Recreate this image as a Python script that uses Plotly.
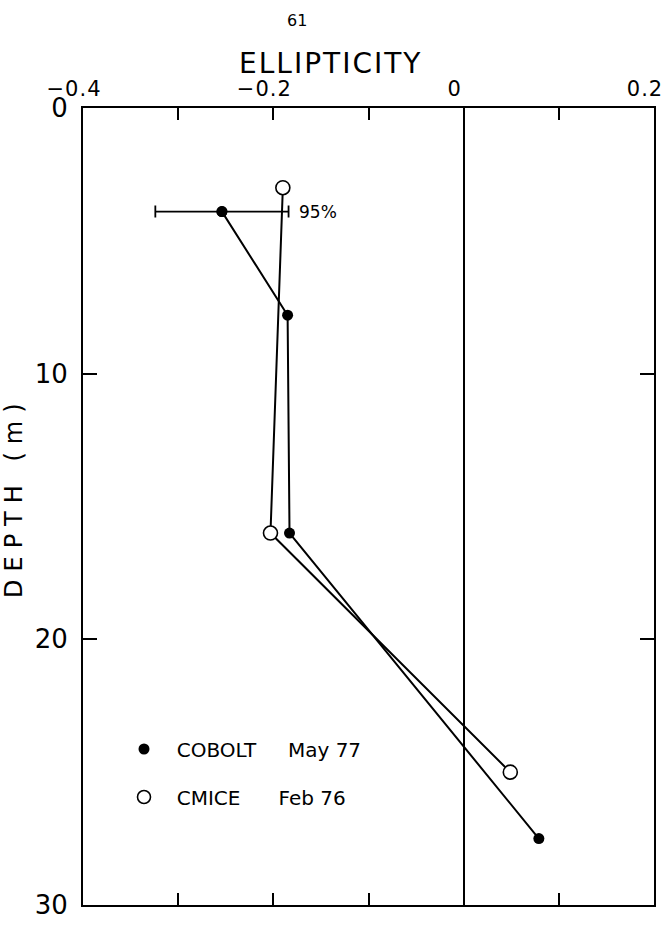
import plotly.graph_objects as go

# ---- data ----
cobolt_ellipticity = [-0.254, -0.185, -0.183, 0.079]
cobolt_depth = [3.9, 7.8, 16.0, 27.5]
cmice_ellipticity = [-0.190, -0.203, 0.049]
cmice_depth = [3.0, 16.0, 25.0]
err_center_ellipticity = [-0.254]
err_center_depth = [3.9]
err_halfwidth = [0.07]
err_label = "95%"
x_tickvals = [-0.4, -0.3, -0.2, -0.1, 0.0, 0.1, 0.2]
x_ticklabels = ["\u22120.4", "", "\u22120.2", "", "0", "", "0.2"]
y_tickvals = [0, 10, 20, 30]
y_ticktext = ["0", "10", "20", "30"]
NB = "\u00a0"
legend_cobolt = NB * 2 + "COBOLT" + NB * 5 + "May 77"
legend_cmice = NB * 2 + "CMICE" + NB * 6 + "Feb 76"

FONT = "DejaVu Sans"
W, H = 664, 928
L, R, T, B = 83, 10, 108, 23

x_ticktext = [
    f'<span style="letter-spacing:1px">{t}</span>' if t else ""
    for t in x_ticklabels
]

fig = go.Figure()

# CMICE line with open circles
fig.add_trace(go.Scatter(
    x=cmice_ellipticity, y=cmice_depth, mode="lines+markers",
    line=dict(color="black", width=2),
    marker=dict(symbol="circle", size=14, color="white",
                line=dict(color="black", width=1.6)),
    showlegend=False))

# COBOLT line with filled circles
fig.add_trace(go.Scatter(
    x=cobolt_ellipticity, y=cobolt_depth, mode="lines+markers",
    line=dict(color="black", width=2),
    marker=dict(symbol="circle", size=11, color="black"),
    showlegend=False))

# 95% error bar
fig.add_trace(go.Scatter(
    x=err_center_ellipticity, y=err_center_depth, mode="markers",
    marker=dict(symbol="circle", size=11, color="black"),
    error_x=dict(type="data", array=err_halfwidth, visible=True,
                 color="black", thickness=1.8, width=6),
    showlegend=False))

# legend entries
fig.add_trace(go.Scatter(
    x=[None], y=[None], mode="markers", name=legend_cobolt,
    marker=dict(symbol="circle", size=11, color="black"),
    legend="legend"))
fig.add_trace(go.Scatter(
    x=[None], y=[None], mode="markers", name=legend_cmice,
    marker=dict(symbol="circle", size=13, color="white",
                line=dict(color="black", width=1.6)),
    legend="legend2"))

pw = W - L - R
ph = H - T - B

def px_x(p):
    return (p - L) / pw

def px_y(p):
    return (H - B - p) / ph

fig.add_annotation(
    x=err_center_ellipticity[0] + err_halfwidth[0], y=err_center_depth[0],
    xref="x", yref="y", text=err_label, showarrow=False,
    xanchor="left", yanchor="middle", xshift=8,
    font=dict(family=FONT, size=17, color="black"))

fig.add_annotation(
    x=px_x(330), y=px_y(63), xref="paper", yref="paper",
    text='<span style="letter-spacing:2px">ELLIPTICITY</span>',
    showarrow=False, xanchor="center", yanchor="middle",
    font=dict(family=FONT, size=28, color="black"))
fig.add_annotation(
    x=px_x(297), y=px_y(21), xref="paper", yref="paper",
    text="61", showarrow=False, xanchor="center", yanchor="middle",
    font=dict(family=FONT, size=16, color="black"))
fig.add_annotation(
    x=px_x(14), y=px_y(497), xref="paper", yref="paper",
    text='<span style="letter-spacing:8px">DEPTH\u00a0(m)</span>',
    showarrow=False, textangle=-90,
    xanchor="center", yanchor="middle",
    font=dict(family=FONT, size=24, color="black"))

fig.update_layout(
    width=W, height=H,
    margin=dict(l=L, r=R, t=T, b=B, autoexpand=False),
    paper_bgcolor="white", plot_bgcolor="white",
    font=dict(family=FONT, color="black"),
    legend=dict(x=px_x(124), y=px_y(749), xanchor="left", yanchor="middle",
                bgcolor="rgba(0,0,0,0)", font=dict(family=FONT, size=20)),
    legend2=dict(x=px_x(124), y=px_y(797), xanchor="left", yanchor="middle",
                 bgcolor="rgba(0,0,0,0)", font=dict(family=FONT, size=20)),
    xaxis=dict(range=[-0.4, 0.2], side="top", tickvals=x_tickvals,
               ticktext=x_ticktext, ticks="inside", ticklen=12, tickwidth=2,
               tickcolor="black", showline=True, linecolor="black",
               linewidth=2, mirror="ticks", showgrid=False,
               zeroline=True, zerolinecolor="black", zerolinewidth=2,
               tickfont=dict(family=FONT, size=21), ticklabelstandoff=2,
               ticklabelshift=-9,
               ticklabeloverflow="allow", automargin=False),
    yaxis=dict(range=[30, 0], tickvals=y_tickvals, ticktext=y_ticktext,
               ticks="inside", ticklen=14, tickwidth=2, tickcolor="black",
               showline=True, linecolor="black", linewidth=2,
               mirror="ticks", showgrid=False, zeroline=False,
               tickfont=dict(family=FONT, size=26), ticklabelstandoff=8,
               automargin=False),
)

fig.write_html("out.html")
